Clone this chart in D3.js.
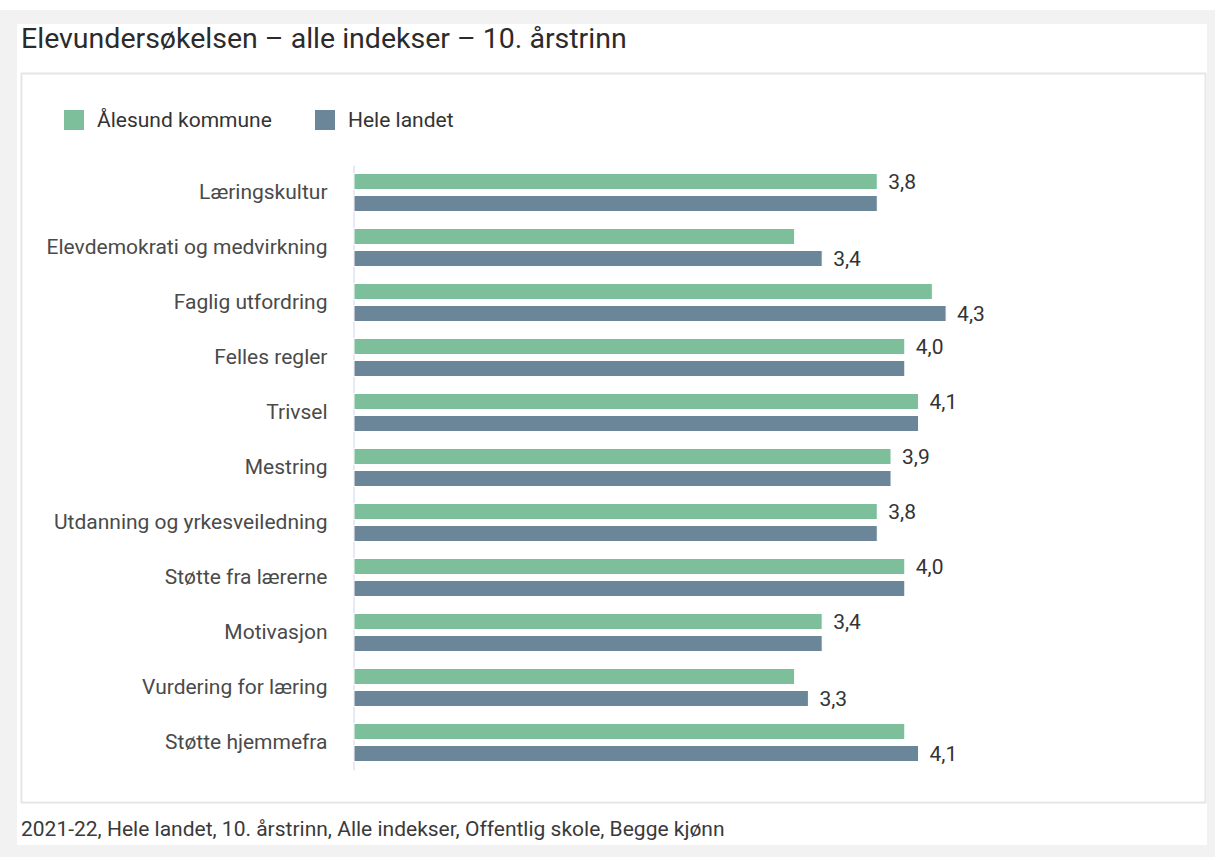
<!DOCTYPE html>
<html>
<head>
<meta charset="utf-8">
<script src="https://cdn.jsdelivr.net/npm/d3@7"></script>
<style>
  html, body { margin: 0; padding: 0; background: #f2f2f2; }
  body { width: 1215px; height: 857px; overflow: hidden; font-family: Roboto, "Noto Sans", sans-serif; }
</style>
</head>
<body>
<svg id="chart" width="1215" height="857"></svg>
<script>
const categories = [
  "Læringskultur",
  "Elevdemokrati og medvirkning",
  "Faglig utfordring",
  "Felles regler",
  "Trivsel",
  "Mestring",
  "Utdanning og yrkesveiledning",
  "Støtte fra lærerne",
  "Motivasjon",
  "Vurdering for læring",
  "Støtte hjemmefra"
];
const seriesNames = ["Ålesund kommune", "Hele landet"];
const alesundValues = [3.8, 3.2, 4.2, 4.0, 4.1, 3.9, 3.8, 4.0, 3.4, 3.2, 4.0];
const heleLandetValues = [3.8, 3.4, 4.3, 4.0, 4.1, 3.9, 3.8, 4.0, 3.4, 3.3, 4.1];
const seriesColors = ["#7dbf9b", "#6b8599"];
const titleText = "Elevundersøkelsen – alle indekser – 10. årstrinn";
const footerText = "2021-22, Hele landet, 10. årstrinn, Alle indekser, Offentlig skole, Begge kjønn";

const svg = d3.select("#chart");

// page frame
svg.append("rect").attr("x", 0).attr("y", 0).attr("width", 1215).attr("height", 10).attr("fill", "#ffffff");
svg.append("rect").attr("x", 17).attr("y", 24).attr("width", 1190).attr("height", 821).attr("fill", "#ffffff");
svg.append("rect").attr("x", 21.5).attr("y", 73.5).attr("width", 1184).attr("height", 729)
  .attr("fill", "#ffffff").attr("stroke", "#e6e6e6").attr("stroke-width", 2);

// title
svg.append("text").attr("x", 21).attr("y", 48)
  .attr("font-size", 28.5).attr("fill", "#2b2b2b").text(titleText);

// footer
svg.append("text").attr("x", 21).attr("y", 836)
  .attr("font-size", 21).attr("fill", "#3a3a3a").text(footerText);

// legend
const legendX = [64, 315];
seriesNames.forEach((name, i) => {
  const g = svg.append("g").attr("transform", `translate(${legendX[i]},110)`);
  g.append("rect").attr("width", 20).attr("height", 20).attr("fill", seriesColors[i]);
  g.append("text").attr("x", 33).attr("y", 10).attr("dy", "0.35em")
    .attr("font-size", 21).attr("fill", "#333333").text(name);
});

// scales
const x = d3.scaleLinear().domain([0, 5]).range([354, 354 + 5 * 137.7]);
const y = d3.scaleBand().domain(categories).range([165, 770]).paddingInner(0).paddingOuter(0);
const ys = d3.scaleBand().domain([0, 1]).range([0, y.bandwidth()]).paddingInner(0.273).paddingOuter(0.386);

// axis line
const yAxis = d3.axisLeft(y).tickSize(0).tickPadding(26);
const axisG = svg.append("g").attr("transform", `translate(${x(0) - 0.5},0)`).call(yAxis);
axisG.select(".domain").attr("stroke", "#ccd6eb").attr("stroke-width", 1);
axisG.selectAll("text").attr("font-size", 21).attr("fill", "#4a4a4a")
  .attr("font-family", "Roboto, 'Noto Sans', sans-serif");

const data = categories.map((c, i) => ({ cat: c, vals: [alesundValues[i], heleLandetValues[i]] }));

const groups = svg.append("g").selectAll("g").data(data).join("g")
  .attr("transform", d => `translate(0,${y(d.cat)})`);

groups.selectAll("rect").data(d => d.vals.map((v, s) => ({ v, s })))
  .join("rect")
  .attr("x", x(0))
  .attr("y", d => ys(d.s))
  .attr("width", d => x(d.v) - x(0))
  .attr("height", ys.bandwidth())
  .attr("fill", d => seriesColors[d.s])
  .attr("stroke", "#ffffff").attr("stroke-width", 1);

// data labels: shown on the larger bar (ties on first series)
const fmt = v => d3.format(".1f")(v).replace(".", ",");
groups.append("text")
  .attr("x", d => x(d3.max(d.vals)) + 11)
  .attr("y", d => {
    const s = d.vals[1] > d.vals[0] ? 1 : 0;
    return ys(s) + ys.bandwidth() / 2;
  })
  .attr("dy", "0.35em")
  .attr("font-size", 21).attr("fill", "#333333")
  .text(d => fmt(d3.max(d.vals)));
</script>
</body>
</html>
